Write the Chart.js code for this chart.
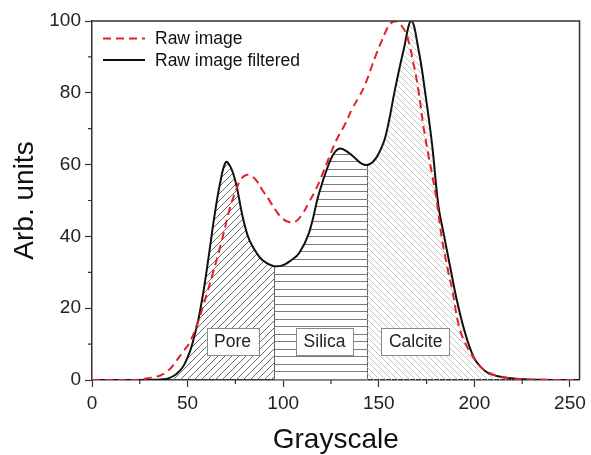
<!DOCTYPE html>
<html><head><meta charset="utf-8">
<script src="https://cdn.jsdelivr.net/npm/chart.js@4.4.1/dist/chart.umd.min.js"></script>
<style>html,body{margin:0;padding:0;background:#fff;}#wrap{width:591px;height:455px;}</style>
</head><body><div id="wrap"><canvas id="c" width="591" height="455"></canvas></div>
<script>
// ---- data ----
const seriesNames = ['Raw image', 'Raw image filtered'];
const rawX = [0, 20, 25, 28.5, 32, 35.4, 38.9, 42, 44, 47.5, 51, 55, 58, 63.2, 67.5, 71.9, 75.3, 78, 80.6, 83, 85.8, 89, 92.7, 96, 99.6, 103, 106.6, 110, 113.5, 117, 120.5, 124, 128, 132.6, 136, 139.6, 143, 146.5, 149, 151.7, 154, 156, 159.5, 162, 164.7, 168.2, 170.8, 173.4, 176, 178, 180.4, 183, 186, 188.5, 191.7, 195, 199.5, 203, 207, 212, 218, 225, 235, 255];
const rawY = [0, 0, 0.1, 0.4, 0.8, 1.2, 2.2, 3.8, 5.2, 7.8, 10.4, 15.5, 20.4, 29.7, 38, 47.4, 52.9, 56, 57.1, 56.9, 55.7, 53, 50.1, 47.3, 45, 44, 44.2, 46.2, 49.5, 53, 57.3, 62, 67, 71.5, 75.5, 78.8, 82.5, 87.6, 91.2, 94.7, 97.5, 99.3, 100, 98.6, 96, 88, 80.5, 70.5, 62.5, 57, 49.5, 39.5, 31, 25, 15.5, 10.5, 6.3, 3.8, 2.2, 1.1, 0.5, 0.2, 0.05, 0];
const filtX = [0, 25, 32, 36, 40, 44, 47.6, 50, 52, 54, 56, 59, 61.5, 64, 67, 70, 72.5, 75.3, 78.8, 82.3, 87.5, 91, 95.3, 100, 104, 108.3, 113.5, 118.75, 124, 127, 130, 134, 137.8, 141, 143.9, 147, 150, 153.5, 158.7, 163, 167, 170.8, 174.3, 177.8, 181.25, 183.9, 187.3, 190.8, 195.2, 199.5, 203, 207.3, 213, 219, 228, 240, 255];
const filtY = [0, 0, 0.05, 0.15, 0.45, 1.6, 3.7, 6.3, 9.2, 13.2, 17.8, 27, 36.2, 45.5, 54.8, 60.7, 59.3, 54.8, 45.5, 39, 34.3, 32.7, 31.7, 32, 33.3, 35.3, 41, 52, 60.4, 63.5, 64.5, 63.4, 61.7, 60.3, 59.9, 60.8, 63.1, 67.8, 81.5, 92, 100, 92, 80, 66, 48.3, 40.9, 31.6, 22.3, 13, 6.5, 3.8, 1.9, 1, 0.5, 0.15, 0.03, 0];
const regionNames = ['Pore', 'Silica', 'Calcite'];
const regionEdges = [0, 95.3, 143.9, 255];
const labelX = [73.5, 121.6, 169.3];
const labelY = 10.7;
const xTicks = [0, 50, 100, 150, 200, 250];
const xMinorTicks = [25, 75, 125, 175, 225];
const yTicks = [0, 20, 40, 60, 80, 100];
const yMinorTicks = [10, 30, 50, 70, 90];
const xTitle = 'Grayscale';
const yTitle = 'Arb. units';

// ---- styling ----
const FONT = '"Liberation Sans", Arial, Helvetica, sans-serif';
const RED = '#e3202b';
const BLACK = '#111111';
const AXIS = '#333333';
const TENSION = 0.4;

function hatch(kind, p, color, lw) {
  const c = document.createElement('canvas');
  const g = c.getContext('2d');
  if (kind === 'h') {
    c.width = 4; c.height = 15;
    g.strokeStyle = color; g.lineWidth = lw;
    g.beginPath();
    g.moveTo(0, 4.5); g.lineTo(4, 4.5);
    g.moveTo(0, 11.5); g.lineTo(4, 11.5);
    g.stroke();
  } else {
    c.width = p; c.height = p;
    g.strokeStyle = color; g.lineWidth = lw;
    g.beginPath();
    for (let k = -1; k <= 1; k++) {
      if (kind === '/') { g.moveTo(k * p, p); g.lineTo((k + 1) * p, 0); }
      else { g.moveTo(k * p, 0); g.lineTo((k + 1) * p, p); }
    }
    g.stroke();
  }
  return g.createPattern(c, 'repeat');
}
const patterns = [hatch('/', 7, '#5a5a5a', 0.9), hatch('h', 0, '#7a7a7a', 1), hatch('\\', 6, '#c6c6c6', 1)];

const pts = (xs, ys) => xs.map((x, i) => ({x: x, y: ys[i]}));
const filtPts = pts(filtX, filtY);

const regionSets = regionNames.map((name, r) => ({
  label: name,
  data: filtPts.filter(p => p.x >= regionEdges[r] && p.x <= regionEdges[r + 1]),
  borderWidth: 0,
  borderColor: 'rgba(0,0,0,0)',
  backgroundColor: patterns[r],
  fill: 'origin',
  pointRadius: 0,
  tension: TENSION
}));

const decor = {
  id: 'decor',
  beforeDatasetsDraw(chart) {
    const {ctx, scales: {x, y}} = chart;
    ctx.save();
    ctx.strokeStyle = '#666';
    ctx.lineWidth = 1;
    [regionEdges[1], regionEdges[2]].forEach(e => {
      const i = filtX.indexOf(e);
      const px = Math.round(x.getPixelForValue(e)) + 0.5;
      ctx.beginPath();
      ctx.moveTo(px, y.getPixelForValue(0));
      ctx.lineTo(px, y.getPixelForValue(filtY[i]));
      ctx.stroke();
    });
    ctx.restore();
  },
  afterDatasetsDraw(chart) {
    const {ctx, scales: {x, y}} = chart;
    ctx.save();
    ctx.font = '17.5px ' + FONT;
    ctx.textAlign = 'center';
    ctx.textBaseline = 'middle';
    regionNames.forEach((name, r) => {
      const cx = x.getPixelForValue(labelX[r]);
      const cy = y.getPixelForValue(labelY);
      const w = ctx.measureText(name).width + 15;
      const h = 27;
      ctx.fillStyle = '#fff';
      ctx.fillRect(cx - w / 2, cy - h / 2, w, h);
      ctx.strokeStyle = '#8a8a8a';
      ctx.lineWidth = 1;
      ctx.strokeRect(Math.round(cx - w / 2) + 0.5, Math.round(cy - h / 2) + 0.5, Math.round(w), h);
      ctx.fillStyle = '#222';
      ctx.fillText(name, cx, cy + 1);
    });
    ctx.restore();
  },
  afterDraw(chart) {
    const {ctx, chartArea: a, scales: {x, y}} = chart;
    ctx.save();
    ctx.strokeStyle = AXIS;
    ctx.lineWidth = 1.5;
    ctx.beginPath();
    ctx.moveTo(a.left, a.top); ctx.lineTo(a.right, a.top); ctx.lineTo(a.right, a.bottom);
    ctx.stroke();
    ctx.lineWidth = 1.2;
    ctx.beginPath();
    xMinorTicks.forEach(v => { const px = x.getPixelForValue(v); ctx.moveTo(px, a.bottom); ctx.lineTo(px, a.bottom + 4); });
    yMinorTicks.forEach(v => { const py = y.getPixelForValue(v); ctx.moveTo(a.left - 4, py); ctx.lineTo(a.left, py); });
    ctx.stroke();
    // legend
    const lx0 = a.left + 11, lx1 = a.left + 53, tx = a.left + 63;
    const ly = [a.top + 17.5, a.top + 39];
    ctx.lineWidth = 2;
    ctx.strokeStyle = RED; ctx.setLineDash([8, 5]);
    ctx.beginPath(); ctx.moveTo(lx0, ly[0]); ctx.lineTo(lx1, ly[0]); ctx.stroke();
    ctx.strokeStyle = BLACK; ctx.setLineDash([]);
    ctx.beginPath(); ctx.moveTo(lx0, ly[1]); ctx.lineTo(lx1, ly[1]); ctx.stroke();
    ctx.fillStyle = '#111';
    ctx.font = '17.5px ' + FONT;
    ctx.textAlign = 'left'; ctx.textBaseline = 'middle';
    ctx.fillText(seriesNames[0], tx, ly[0] + 1);
    ctx.fillText(seriesNames[1], tx, ly[1] + 1);
    ctx.restore();
  }
};

new Chart(document.getElementById('c'), {
  type: 'line',
  data: {
    datasets: [
      { label: seriesNames[0], data: pts(rawX, rawY), borderColor: RED, borderWidth: 2, borderDash: [8, 5], pointRadius: 0, fill: false, tension: TENSION },
      { label: seriesNames[1], data: filtPts, borderColor: BLACK, borderWidth: 2, pointRadius: 0, fill: false, tension: TENSION },
      ...regionSets
    ]
  },
  options: {
    responsive: false,
    animation: false,
    devicePixelRatio: 1,
    layout: { padding: { top: 21, right: 9, left: 0, bottom: 0 } },
    plugins: { legend: { display: false }, tooltip: { enabled: false } },
    scales: {
      x: {
        type: 'linear', min: 0, max: 255,
        afterBuildTicks: s => { s.ticks = xTicks.map(v => ({value: v})); },
        afterFit: s => { s.height = 75; },
        grid: { drawOnChartArea: false, drawTicks: true, tickLength: 7, tickColor: AXIS, tickWidth: 1.2 },
        border: { color: AXIS, width: 1.5 },
        ticks: { font: { family: FONT, size: 19 }, color: '#222', padding: 5, maxRotation: 0 },
        title: { display: true, text: xTitle, font: { family: FONT, size: 28, lineHeight: 1 }, color: '#111', padding: { top: 0, bottom: 0.7 } }
      },
      y: {
        type: 'linear', min: 0, max: 100,
        afterBuildTicks: s => { s.ticks = yTicks.map(v => ({value: v})); },
        afterFit: s => { s.width = 92; },
        grid: { drawOnChartArea: false, drawTicks: true, tickLength: 7, tickColor: AXIS, tickWidth: 1.2 },
        border: { color: AXIS, width: 1.5 },
        ticks: { font: { family: FONT, size: 19 }, color: '#222', padding: 4 },
        title: { display: true, text: yTitle, font: { family: FONT, size: 28, lineHeight: 1 }, color: '#111', padding: { top: 10.8, bottom: 0 } }
      }
    }
  },
  plugins: [decor]
});
</script>
</body></html>
